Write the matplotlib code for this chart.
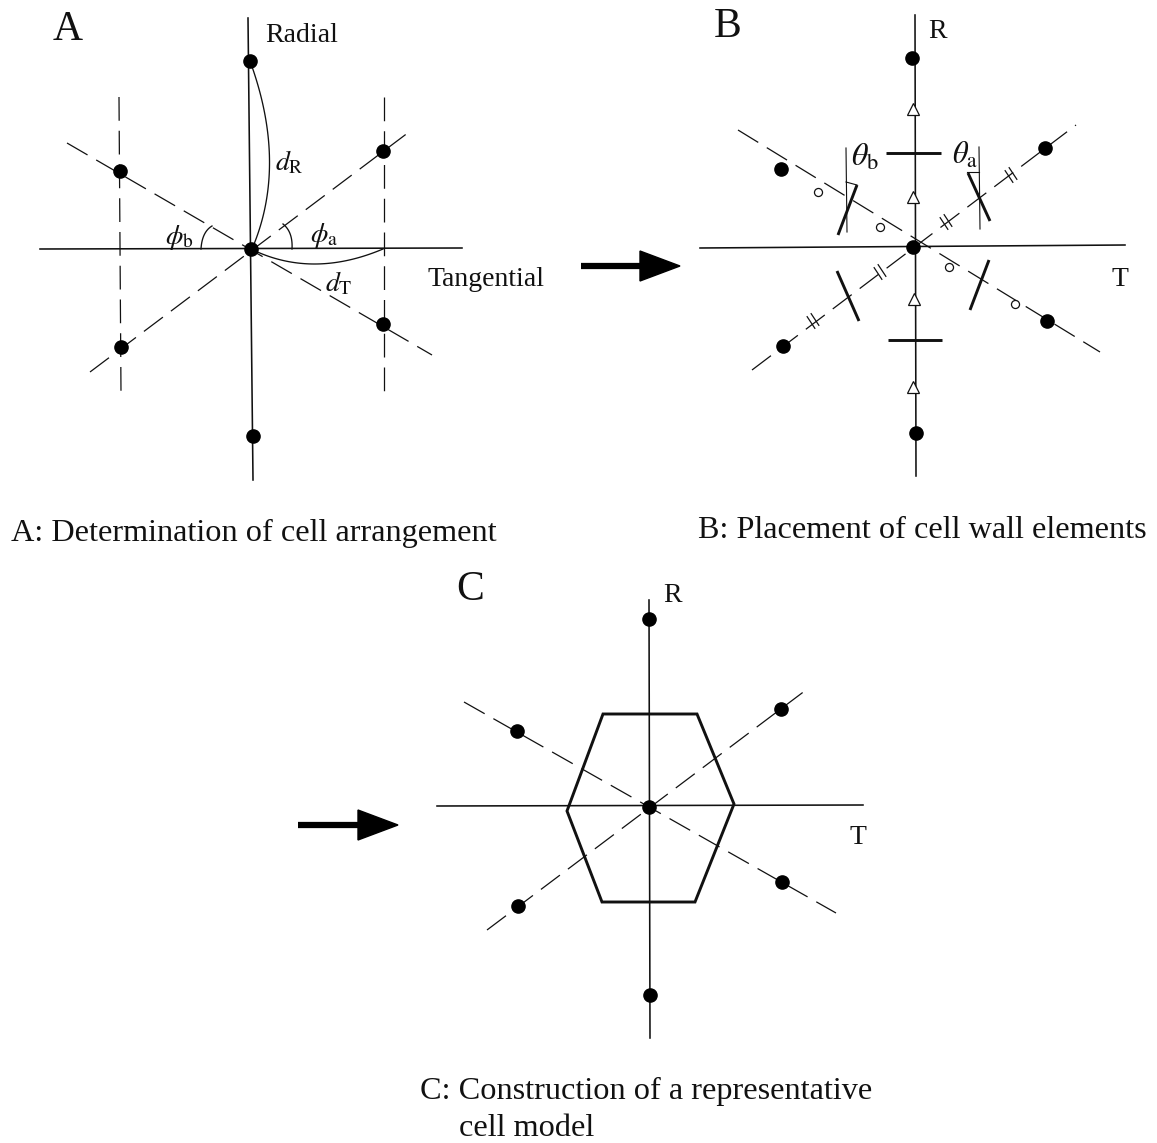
import matplotlib
matplotlib.use("Agg")
import matplotlib.pyplot as plt
from matplotlib.patches import Polygon
import numpy as np

plt.rcParams['font.family'] = ['Liberation Serif', 'DejaVu Serif']
plt.rcParams['mathtext.fontset'] = 'stix'

W, H = 1157, 1143
# --- panel A
a_solid = [((248,18),(253,480)), ((40,249),(462,248))]
a_dash = [((67,143),(432,355)), ((90,372),(413,129)), ((119,97),(121,393)), ((384,97),(384,393))]
a_pts = [(250,61),(120,171),(383,151),(251,249),(383,324),(121,347),(253,436)]
# --- panel B
b_solid = [((915,15),(916,476)), ((700,248),(1125,245))]
b_dash = [((738,130),(1100,352)), ((752,370),(1076,125))]
b_pts = [(912,58),(781,169),(1045,148),(913,247),(1047,321),(783,346),(916,433)]
b_walls = [((886,153),(941,153)),((888,340),(942,340)),((838,235),(857,185)),((968,173),(990,221)),
           ((837,271),(859,321)),((989,260),(970,310))]
b_tri = [(913,109),(913,197),(914,299),(913,387)]
b_circ = [(818,192),(880,227),(949,267),(1015,304)]
b_dbl = [(1011,175),(946,222),(880,272),(813,321)]
b_thin = [((846,148),(847,232)),((979,147),(980,229))]
b_angle = [((846,182),(857,185)),((967,172),(979,172))]
# --- panel C
c_solid = [((649,600),(650,1038)), ((437,806),(863,805))]
c_dash = [((464,702),(836,913)), ((487,930),(810,687))]
c_pts = [(649,619),(517,731),(781,709),(649,807),(782,882),(518,906),(650,995)]
c_hex = [(603,714),(697,714),(734,804),(695,902),(602,902),(567,811)]
# --- arrows
arrows = [((581,266),(680,266)), ((298,825),(398,825))]
# --- text
labels = [
 (53,30,'A',30),(714,27,'B',30),(456,590,'C',30),
 (265,35,'Radial',20),(428,279,'Tangential',20),
 (928,31,'R',20),(1112,279,'T',20),(663,595,'R',20),(849,838,'T',20),
 (11,533,'A: Determination of cell arrangement',23.2),
 (698,531,'B: Placement of cell wall elements',23.2),
 (420,1091,'C: Construction of a representative',23.2),
 (459,1128,'cell model',23.2),
]
math_labels = [
 (275,163,r'$d_{\mathrm{R}}$',20),(325,284,r'$d_{\mathrm{T}}$',20),
 (310,236,r'$\phi_{\mathrm{a}}$',20),(165,237,r'$\phi_{\mathrm{b}}$',20),
 (851,158,r'$\theta_{\mathrm{b}}$',23),(952,156,r'$\theta_{\mathrm{a}}$',22),
]
# --- curved guides: start, control, end
arcs = [((250,61),(288,165),(252,249)), ((251,249),(312,279),(383,249)),
        ((201,249),(202,232),(212,226)), ((292,249),(293,232),(283,224))]

INK = '#111111'
fig = plt.figure(figsize=(W/100, H/100), dpi=100)
ax = fig.add_axes([0,0,1,1])
ax.set_xlim(0,W); ax.set_ylim(H,0); ax.axis('off')

def seg(s, **k):
    ax.plot([s[0][0],s[1][0]],[s[0][1],s[1][1]],color=INK,**k)
for s in a_solid+b_solid+c_solid:
    seg(s, lw=1.15)
for s in b_thin+b_angle:
    seg(s, lw=0.8)
for s in a_dash+b_dash+c_dash:
    seg(s, lw=0.9, dashes=(19,8))
for s in b_walls:
    seg(s, lw=2.1, solid_capstyle='butt')
for pts in (a_pts,b_pts,c_pts):
    ax.plot(*zip(*pts),'o',color='black',ms=9.5,ls='none',zorder=4)
ax.add_patch(Polygon(c_hex,closed=True,fill=False,ec=INK,lw=2.1))

ax.plot(*zip(*b_tri),'^',mfc='white',mec=INK,ms=8.5,mew=0.9,ls='none',zorder=3)
ax.plot(*zip(*b_circ),'o',mfc='white',mec=INK,ms=5.8,mew=0.9,ls='none',zorder=3)
for x,y in b_dbl:
    d = np.array([0.55,0.83])
    along = np.array([0.8,-0.6])
    for off in (-2.5,2.5):
        c = np.array([x,y]) + off*along
        ax.plot([c[0]-7*d[0],c[0]+7*d[0]],[c[1]-7*d[1],c[1]+7*d[1]],color=INK,lw=0.9)

t = np.linspace(0,1,60)
def bez(p0,p1,p2):
    return ((1-t)**2*p0[0]+2*t*(1-t)*p1[0]+t*t*p2[0],(1-t)**2*p0[1]+2*t*(1-t)*p1[1]+t*t*p2[1])
for a in arcs:
    ax.plot(*bez(*a),color=INK,lw=0.95)

for (s,e) in arrows:
    ax.plot([s[0],e[0]-38],[s[1],e[1]],color='black',lw=4.5,solid_capstyle='butt')
    ax.add_patch(Polygon([(e[0]-40,e[1]-15),(e[0],e[1]),(e[0]-40,e[1]+15)],closed=True,fc='black',ec='black'))

for x,y,s,fs in labels+math_labels:
    ax.text(x,y,s,fontsize=fs,va='center',ha='left',color=INK)
fig.savefig('out.png',dpi=100)
